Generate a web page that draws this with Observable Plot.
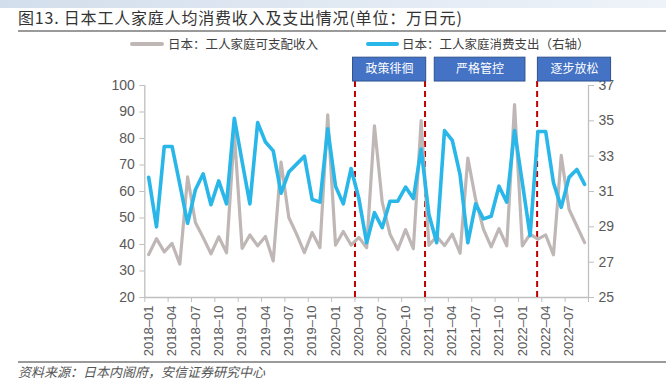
<!DOCTYPE html>
<html><head><meta charset="utf-8">
<script src="https://cdn.jsdelivr.net/npm/d3@7"></script>
<script src="https://cdn.jsdelivr.net/npm/@observablehq/plot@0.6"></script>
<style>
body{margin:0;background:#fff;width:666px;height:387px;position:relative;overflow:hidden;font-family:"Noto Sans CJK SC","Noto Sans",sans-serif;}
.band{position:absolute;left:0;top:0;width:666px;height:8px;background:linear-gradient(to right,#d3deec,#eef3f9);}
.title{position:absolute;left:18px;top:7px;font-size:16px;line-height:20px;letter-spacing:0.8px;color:#333;white-space:nowrap;}
.hr{position:absolute;left:18px;width:648px;height:2px;background:#9a9a9a;}
.leg{position:absolute;top:36px;font-size:12.5px;line-height:16px;color:#404040;white-space:nowrap;}
.sw{position:absolute;top:42px;height:4px;border-radius:2px;}
.cap{position:absolute;left:18px;top:364px;font-size:13px;line-height:16px;color:#555;font-style:italic;white-space:nowrap;}
#chart{position:absolute;left:0;top:50px;}
</style></head>
<body>
<div class="band"></div>
<div class="title">图13. 日本工人家庭人均消费收入及支出情况(单位：万日元)</div>
<div class="hr" style="top:30px"></div>
<div class="sw" style="left:130px;width:34px;background:#BFB7B5"></div>
<div class="leg" style="left:168px">日本：工人家庭可支配收入</div>
<div class="sw" style="left:366px;width:33px;background:#29B6E8"></div>
<div class="leg" style="left:402px">日本：工人家庭消费支出（右轴）</div>
<div id="chart"></div>
<div class="hr" style="top:361px;height:1.5px"></div>
<div class="cap">资料来源：日本内阁府，安信证券研究中心</div>
<script>
// monthly series, 2018-01 .. 2022-09
const firstMonth = "2018-01";
const income = [36.2,42.2,37.2,40.4,32.6,65.5,48.3,42.6,36.5,42.9,36.9,82.0,
  38.5,43.6,39.5,43.0,33.8,71.1,50.2,43.9,36.9,44.5,38.8,88.9,
  39.8,44.9,39.8,42.7,38.8,84.8,56.0,43.9,38.1,45.6,38.4,86.8,
  39.7,43.0,39.6,43.9,36.7,72.6,57.0,45.8,39.1,46.0,39.5,92.8,
  39.5,43.9,42.0,43.6,36.1,73.6,53.3,47.0,40.7];
const spending = [31.8,29.0,33.55,33.55,31.4,29.2,31.1,32.0,30.25,31.6,30.3,35.15,
  32.7,30.3,34.9,33.8,33.3,30.9,32.1,32.55,33.0,30.55,30.4,34.55,
  31.3,30.3,32.3,30.6,28.1,29.8,28.95,30.45,30.45,31.25,30.6,33.4,
  29.7,28.1,34.45,33.9,31.95,28.1,30.3,29.45,29.6,31.3,30.4,34.45,
  31.5,28.5,34.4,34.4,31.5,30.1,31.8,32.25,31.4];
const xTickLabels = ["2018–01","2018–04","2018–07","2018–10","2019–01","2019–04","2019–07","2019–10",
  "2020–01","2020–04","2020–07","2020–10","2021–01","2021–04","2021–07","2021–10","2022–01","2022–04","2022–07"];
const leftTicks = [20,30,40,50,60,70,80,90,100];
const rightTicks = [25,27,29,31,33,35,37];
const phases = ["政策徘徊","严格管控","逐步放松"];
const breakMonths = ["2020-04","2021-01","2022-03"];

const monthIndex = m => { const [y,mo] = m.split("-").map(Number); const [y0,m0] = firstMonth.split("-").map(Number); return (y-y0)*12 + (mo-m0); };
const L0 = leftTicks[0], L1 = leftTicks[leftTicks.length-1];
const R0 = rightTicks[0], R1 = rightTicks[rightTicks.length-1];
const toLeft = v => L0 + (v - R0) * (L1 - L0) / (R1 - R0);
const fromLeft = v => R0 + (v - L0) * (R1 - R0) / (L1 - L0);

const rows = income.map((v,i) => ({i, income: v, spendL: toLeft(spending[i])}));
const n = rows.length;
const breaks = [monthIndex(breakMonths[0]) - 0.5, monthIndex(breakMonths[1]) - 0.5, monthIndex(breakMonths[2]) - 0.1];
const boxes = [
  {label: phases[0], x1: breaks[0] - 0.25, x2: breaks[1] + 0.15},
  {label: phases[1], x1: breaks[1] + 1.25, x2: breaks[2] - 1.5},
  {label: phases[2], x1: breaks[2] + 0.1, x2: breaks[2] + 9.5}
];
const labelPos = d3.range(0, n, 3);
const tickPos = d3.range(-0.5, n, 3).concat([n - 0.5]);

const axisCol = "#BFBFBF", textCol = "#595959";
const chart = Plot.plot({
  width: 666, height: 312,
  marginLeft: 144.3, marginRight: 78, marginTop: 35, marginBottom: 65,
  style: {fontFamily: "'Liberation Sans', Arial, sans-serif", fontSize: "14px", color: textCol, background: "transparent"},
  x: {type: "linear", domain: [-0.5, n - 0.5], axis: null},
  y: {domain: [L0, L1], axis: null},
  marks: [
    Plot.ruleY([L0], {stroke: axisCol, strokeWidth: 1.3}),
    Plot.ruleX([-0.5], {y1: L0, y2: L1, stroke: axisCol, strokeWidth: 1.3}),
    Plot.ruleX([n - 0.5], {y1: L0, y2: L1, stroke: axisCol, strokeWidth: 1.3}),
    Plot.axisY({anchor: "left", ticks: leftTicks, tickSize: 5, tickPadding: 5, stroke: axisCol, fill: textCol, fontSize: 14}),
    Plot.axisY({anchor: "right", ticks: rightTicks.map(toLeft), tickSize: 5, tickPadding: 5, tickFormat: v => String(Math.round(fromLeft(v))), stroke: axisCol, fill: textCol, fontSize: 14}),
    Plot.axisX({ticks: tickPos, tickSize: 5, tickFormat: () => "", stroke: axisCol}),
    Plot.axisX({ticks: labelPos, tickSize: 0, tickPadding: 8, tickRotate: -90, tickFormat: i => xTickLabels[i / 3], fill: textCol, fontSize: 13}),
    Plot.ruleX(breaks, {y1: L0, y2: L1 + 1.5, stroke: "#C00000", strokeWidth: 2, strokeDasharray: "6,4"}),
    Plot.line(rows, {x: "i", y: "income", stroke: "#BFB7B5", strokeWidth: 3.2}),
    Plot.line(rows, {x: "i", y: "spendL", stroke: "#29B6E8", strokeWidth: 3.6}),
    Plot.rect(boxes, {x1: "x1", x2: "x2", y1: L1 + 1.5, y2: L1 + 10.5, fill: "#4472C4", stroke: "#2F528F", strokeWidth: 1}),
    Plot.text(boxes, {x: d => (d.x1 + d.x2) / 2, y: L1 + 6, text: "label", fill: "white", fontSize: 12, fontFamily: "'Noto Sans CJK SC', sans-serif"})
  ]
});
document.getElementById("chart").appendChild(chart);
</script>
</body></html>
